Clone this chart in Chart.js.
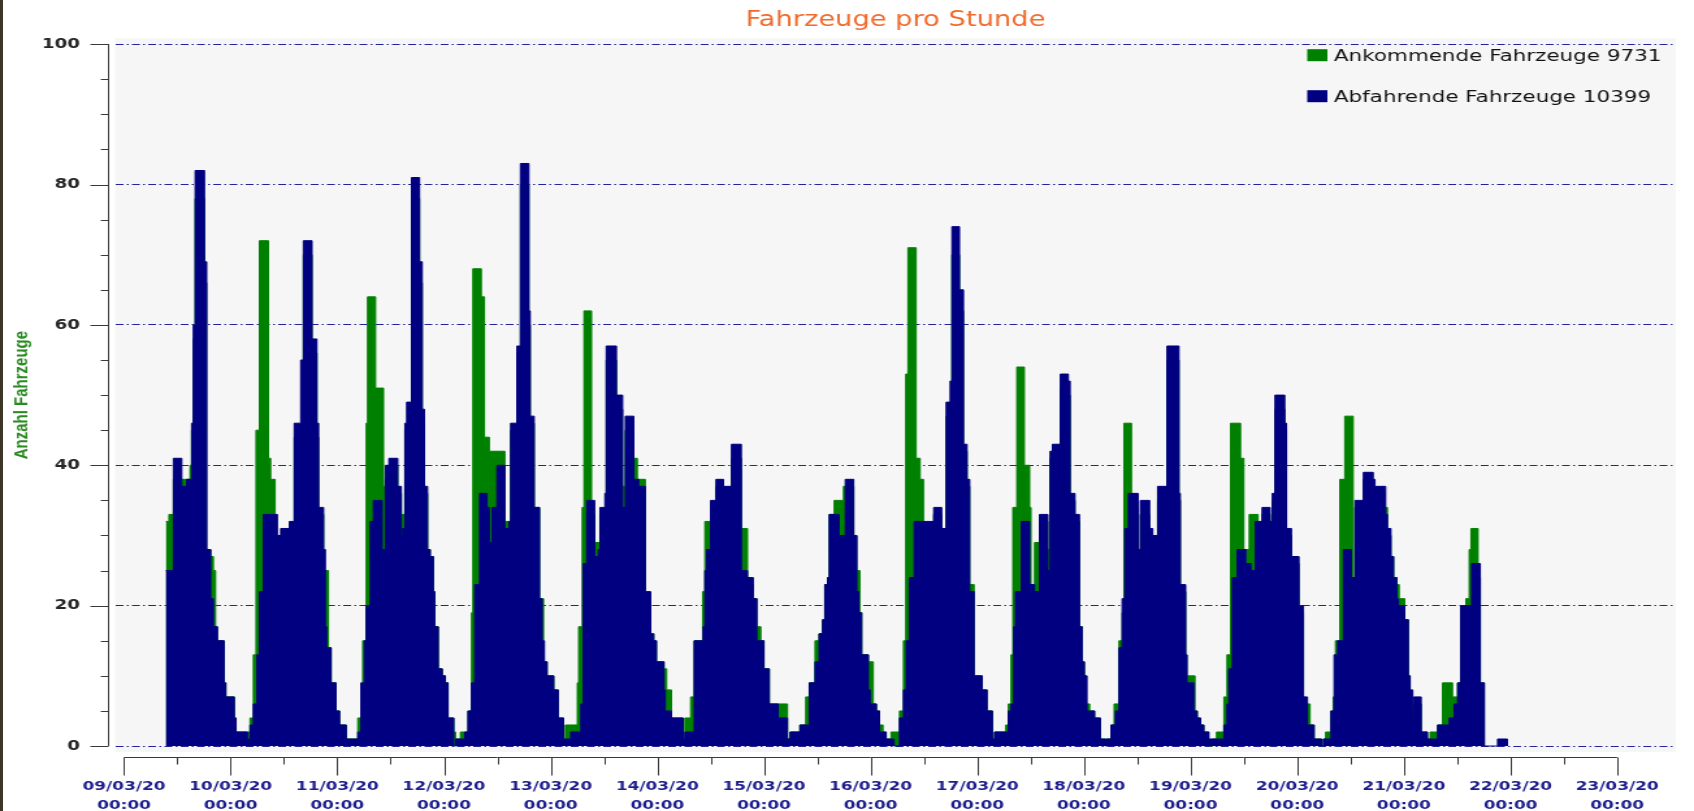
<!DOCTYPE html>
<html>
<head>
<meta charset="utf-8">
<title>Fahrzeuge pro Stunde</title>
<script src="https://cdn.jsdelivr.net/npm/chart.js@4.4.1/dist/chart.umd.min.js"></script>
<style>
    html, body { margin: 0; padding: 0; background: #ffffff; }
    #wrap { position: relative; width: 1694px; height: 811px; overflow: hidden; }
    #edge { position: absolute; left: 0; top: 0; width: 3px; height: 811px; background: #3d3526; }
</style>
</head>
<body>
<div id="wrap">
    <canvas id="fahrzeugChart" width="1303" height="811" style="width:1694px;height:811px;"></canvas>
    <div id="edge"></div>
</div>
<script>
// Werte; Zeit in Stunden ab 09/03/20 00:00
var dayLabels = ['09/03/20', '10/03/20', '11/03/20', '12/03/20', '13/03/20', '14/03/20', '15/03/20',
    '16/03/20', '17/03/20', '18/03/20', '19/03/20', '20/03/20', '21/03/20', '22/03/20', '23/03/20'];
var timeLabel = '00:00';
var yTicks = [0, 20, 40, 60, 80, 100];
var seriesNames = ['Ankommende Fahrzeuge 9731', 'Abfahrende Fahrzeuge 10399'];

// Ankommende Fahrzeuge (gruen)
var ankHours = [9.4, 10.1, 11.1, 14.85, 15.2, 15.6, 16.0, 18.1, 18.6, 19.5, 20.1, 20.6, 21.0, 22.5, 22.9, 24.8, 25.2, 28.35, 29.1, 29.7, 30.45, 32.5, 33.0, 34.0, 35.25, 37.2, 38.3,
    40.35, 42.3, 43.4, 43.8, 44.9, 46.0, 46.6, 47.7, 48.5, 50.0, 52.6, 53.7, 54.5, 54.8, 56.6, 58.4, 58.8, 59.6, 61.6, 62.4, 63.1, 63.2, 64.7, 66.5, 67.1, 67.6, 68.3, 68.9, 69.6, 69.9,
    70.7, 71.6, 72.3, 72.9, 74.2, 74.6, 75.7, 77.4, 78.2, 78.5, 80.4, 81.1, 82.2, 85.7, 86.6, 87.0, 88.4, 89.2, 91.1, 91.4, 92.3, 93.5, 94.4, 95.2, 96.7, 97.7, 98.9, 99.3,
    102.0, 102.3, 103.1, 103.5, 105.2, 105.9, 107.1, 108.5, 110.8, 112.2, 112.8, 114.7, 115.5, 117.3, 118.5, 119.2, 119.8, 121.5, 122.1, 123.2, 125.8, 126.2, 127.5, 128.3, 130.2, 130.7,
    132.6, 133.2, 134.9, 136.7, 138.9, 140.3, 141.6, 142.4, 143.3, 144.0, 145.2, 149.3, 149.9, 152.1, 153.4, 154.2, 155.5, 156.4, 157.2, 157.7, 158.3, 158.7, 159.8,
    161.9, 164.2, 164.9, 165.6, 166.0, 167.5, 168.6, 169.3, 170.0, 170.8, 171.5, 172.6, 174.5, 175.4, 175.9, 176.4, 178.25, 179.15, 179.9, 182.2, 184.0, 185.0, 186.3, 188.0, 188.9, 189.7, 190.3, 191.3,
    193.1, 194.2, 195.4, 195.9, 198.4, 199.0, 199.6, 200.0, 200.9, 202.6, 203.8, 204.1, 204.9, 206.0, 207.9, 208.4, 208.9, 210.7, 212.5, 212.9, 214.0, 215.0, 215.6, 216.1, 216.5, 217.3, 218.4, 219.7, 220.9, 221.0, 222.1, 222.8,
    223.9, 224.6, 225.0, 226.7, 228.2, 228.7, 230.8, 231.5, 232.6, 234.7, 237.4, 237.7, 238.9, 239.2, 241.0, 241.5, 242.25, 243.0, 244.1, 244.9, 245.85, 247.5, 248.2, 249.0, 251.25, 252.0, 253.2,
    255.2, 256.1, 257.9, 258.4, 259.0, 261.2, 261.6, 262.7, 264.4, 265.4, 265.6, 266.9, 267.8, 269.5, 269.9, 270.4, 271.6, 272.1, 272.6, 273.6, 274.7, 276.6, 277.0, 278.9, 281.1, 281.5, 283.7,
    284.3, 285.1, 285.7, 286.4, 286.95, 288.2, 289.0, 289.4, 289.6, 290.2, 291.9, 293.3, 293.9, 295.6, 296.7, 298.95, 300.1, 300.8, 301.95, 302.7, 303.1, 304.7, 305.2, 306.1];
var ankValues = [32, 33, 38, 40, 45, 58, 78, 66, 28, 27, 25, 17, 15, 9, 7, 4, 2, 4, 13, 45, 72, 41, 38, 30, 30, 31, 44,
    70, 56, 44, 33, 25, 14, 9, 5, 3, 1, 4, 15, 46, 64, 51, 37, 38, 40, 36, 33, 31, 45, 78, 66, 46, 36, 28, 27, 22, 17,
    11, 10, 9, 4, 2, 1, 2, 5, 19, 68, 64, 44, 42, 32, 31, 45, 56, 80, 60, 46, 34, 21, 12, 10, 8, 4, 1, 3,
    9, 17, 34, 62, 33, 29, 33, 55, 48, 37, 45, 41, 38, 21, 16, 15, 12, 11, 8, 4, 1, 4, 7, 15, 22, 32,
    34, 37, 36, 41, 31, 23, 21, 17, 15, 11, 6, 1, 2, 3, 7, 9, 15, 16, 18, 23, 24, 33, 35,
    37, 30, 25, 19, 13, 12, 6, 5, 3, 2, 1, 2, 5, 15, 53, 71, 41, 38, 30, 33, 30, 47, 70, 62, 42, 37, 23, 10,
    8, 5, 1, 2, 3, 6, 13, 34, 54, 40, 34, 22, 29, 32, 28, 41, 42, 51, 50, 35, 32, 17, 12, 10, 6, 5, 4, 1, 0, 1, 3, 6,
    15, 19, 46, 34, 27, 33, 30, 29, 35, 55, 35, 22, 13, 10, 5, 4, 3, 2, 0, 1, 2, 7, 13, 46, 41, 28, 33,
    31, 33, 31, 35, 48, 45, 30, 26, 19, 7, 6, 3, 1, 0, 1, 2, 5, 7, 15, 38, 47, 23, 34, 38, 37, 36, 34,
    30, 27, 24, 23, 21, 18, 10, 8, 5, 6, 2, 1, 2, 3, 9, 7, 9, 20, 21, 28, 31, 24, 9, 0];

// Abfahrende Fahrzeuge (blau)
var abfHours = [9.4, 11.1, 13.0, 14.1, 15.2, 15.6, 16.0, 18.1, 18.6, 19.5, 20.1, 21.0, 22.5, 22.9, 24.8, 25.2, 27.75, 28.2, 28.35, 29.1, 29.9, 30.45, 31.35, 34.5, 35.25, 37.2, 38.3,
    39.75, 40.35, 42.3, 43.4, 43.8, 44.9, 45.3, 45.6, 46.6, 47.7, 48.5, 50.0, 52.6, 53.3, 54.1, 54.5, 55.4, 56.1, 58.1, 58.8, 59.6, 61.6, 62.4, 62.7, 63.2, 63.6, 64.7, 66.5, 67.1, 67.6, 68.3, 68.9, 69.6,
    69.9, 70.7, 71.6, 72.3, 72.9, 74.2, 74.6, 76.7, 77.4, 78.2, 78.9, 80.0, 81.7, 82.2, 82.8, 83.9, 85.7, 86.6, 87.0, 88.4, 89.2, 91.1, 91.4, 92.3, 93.5, 94.1, 94.6, 95.2, 96.7, 97.7, 98.9,
    100.5, 102.8, 103.3, 104.1, 105.9, 106.7, 107.1, 108.2, 108.5, 110.8, 112.2, 112.8, 114.7, 115.8, 117.3, 118.5, 119.2, 119.8, 121.5, 121.8, 123.2, 125.8, 126.2, 128.3, 130.3, 130.7,
    131.1, 132.0, 133.2, 134.9, 136.7, 138.9, 140.3, 141.6, 142.4, 144.0, 145.2, 147.2, 149.3, 149.9, 152.1, 154.2, 155.5, 156.4, 157.2, 157.7, 158.3, 158.7, 160.9,
    162.3, 164.2, 164.9, 165.3, 166.0, 167.5, 167.9, 169.3, 170.0, 171.5, 173.3, 174.5, 175.4, 176.0, 176.7, 177.8, 182.2, 184.0, 185.0, 185.9, 186.3, 188.0, 188.9, 189.7, 190.3, 191.3,
    193.1, 194.2, 195.4, 195.9, 199.0, 199.6, 200.2, 200.6, 201.9, 203.8, 204.9, 206.0, 207.9, 208.4, 208.9, 210.7, 212.5, 212.9, 214.0, 215.0, 215.6, 216.1, 216.7, 218.4, 219.7, 220.9, 221.0, 222.1,
    223.1, 223.9, 224.6, 225.2, 226.0, 228.2, 228.7, 230.8, 231.5, 232.6, 234.7, 237.4, 237.7, 238.9, 239.2, 240.75, 241.5, 242.25, 243.0, 244.1, 247.5, 248.2, 248.6, 249.4, 250.5, 252.4,
    253.6, 254.6, 256.1, 257.9, 258.4, 259.0, 261.2, 261.6, 262.7, 264.4, 265.4, 266.3, 267.8, 269.5, 269.9, 271.6, 272.3, 273.1, 274.4, 276.2, 277.0, 278.9, 281.1, 281.5, 283.9,
    284.3, 285.1, 285.7, 286.4, 286.8, 288.2, 289.0, 289.4, 290.0, 290.2, 291.9, 293.3, 295.6, 298.2, 299.3, 300.1, 300.8, 303.25, 305.2, 306.1, 309.1, 311.3];
var abfValues = [25, 41, 37, 38, 46, 60, 82, 69, 28, 21, 17, 15, 9, 7, 4, 2, 1, 0, 3, 6, 13, 22, 33, 30, 31, 32, 46,
    55, 72, 58, 46, 34, 28, 17, 14, 9, 5, 3, 1, 2, 9, 15, 20, 32, 35, 28, 40, 41, 37, 30, 31, 46, 49, 81, 69, 48, 37, 28, 27, 22,
    17, 11, 10, 9, 4, 0, 1, 2, 5, 9, 23, 36, 34, 29, 34, 40, 31, 32, 46, 57, 83, 62, 47, 34, 21, 15, 12, 10, 8, 4, 1,
    2, 6, 26, 35, 27, 28, 34, 36, 57, 50, 34, 47, 38, 37, 22, 16, 15, 12, 8, 5, 4, 1, 2, 15, 17, 25,
    28, 35, 38, 37, 43, 25, 24, 21, 15, 11, 6, 4, 1, 2, 3, 9, 12, 16, 18, 23, 24, 33, 30,
    38, 30, 22, 19, 13, 8, 6, 5, 2, 1, 0, 4, 8, 15, 24, 32, 34, 31, 49, 52, 74, 65, 43, 38, 22, 10,
    8, 5, 1, 2, 5, 6, 17, 22, 32, 23, 22, 33, 25, 42, 43, 53, 52, 36, 33, 17, 12, 10, 5, 4, 1, 0, 1, 3,
    5, 14, 21, 31, 36, 28, 35, 31, 30, 37, 57, 36, 23, 13, 9, 5, 4, 3, 2, 1, 3, 6, 11, 24, 28, 26,
    25, 32, 34, 32, 36, 50, 46, 31, 27, 20, 7, 3, 1, 0, 1, 5, 13, 15, 28, 24, 35, 39, 38, 37, 33,
    31, 27, 24, 21, 20, 18, 10, 8, 4, 7, 2, 1, 3, 4, 6, 9, 20, 26, 9, 0, 1, 0];

function toPoints(hours, values) {
    return hours.map(function (h, i) { return { x: h, y: values[i] }; });
}

// Achsen, Hintergrund und Legende wie im Original
var framePlugin = {
    id: 'frame',
    beforeDraw: function (chart) {
        var a = chart.chartArea, c = chart.ctx;
        c.save();
        c.fillStyle = '#f6f6f6';
        c.fillRect(a.left, a.top, a.right - a.left, a.bottom - a.top);
        c.restore();
    },
    afterDraw: function (chart) {
        var c = chart.ctx, a = chart.chartArea, x = chart.scales.x, y = chart.scales.y;
        c.save();
        c.strokeStyle = '#3a3a3a';
        c.lineWidth = 1;
        c.beginPath();
        // y axis with minor ticks every 5
        var ax = Math.round(a.left - 6) + 0.5;
        c.moveTo(ax, y.getPixelForValue(100));
        c.lineTo(ax, y.getPixelForValue(0));
        for (var v = 0; v <= 100; v += 5) {
            var py = Math.round(y.getPixelForValue(v)) + 0.5;
            c.moveTo(ax, py);
            c.lineTo(ax - (v % 20 === 0 ? 14 : 6), py);
        }
        // x axis, ticks every 12 hours
        var ay = Math.round(a.bottom + 5) + 0.5;
        c.moveTo(x.getPixelForValue(0), ay);
        c.lineTo(x.getPixelForValue(336), ay);
        for (var h = 0; h <= 336; h += 12) {
            var px = Math.round(x.getPixelForValue(h)) + 0.5;
            c.moveTo(px, ay);
            c.lineTo(px, ay + (h % 24 === 0 ? 18 : 7));
        }
        c.stroke();

        // legend inside plot area, top right
        var lx = a.right - 283.5;
        c.font = '16.5px "DejaVu Sans", Verdana, sans-serif';
        c.textBaseline = 'alphabetic';
        chart.data.datasets.forEach(function (ds, i) {
            var top = a.top + 11 + i * 41;
            c.fillStyle = ds.backgroundColor;
            c.fillRect(lx, top, 15.5, 12);
            c.fillStyle = '#111111';
            c.fillText(ds.label, lx + 20.5, top + 12);
        });
        c.restore();
    }
};

var ctx = document.getElementById('fahrzeugChart').getContext('2d');
var fahrzeugChart = new Chart(ctx, {
    type: 'line',
    data: {
        datasets: [{
            label: seriesNames[0],
            data: toPoints(ankHours, ankValues),
            stepped: true,
            fill: 'origin',
            backgroundColor: '#008000',
            borderColor: '#008000',
            borderWidth: 1,
            pointRadius: 0,
            order: 2
        }, {
            label: seriesNames[1],
            data: toPoints(abfHours, abfValues),
            stepped: true,
            fill: 'origin',
            backgroundColor: '#000080',
            borderColor: '#000080',
            borderWidth: 1,
            pointRadius: 0,
            order: 1
        }]
    },
    options: {
        responsive: false,
        devicePixelRatio: 1,
        animation: false,
        layout: { padding: { left: 0, right: 14, top: 0, bottom: 0 } },
        scales: {
            x: {
                type: 'linear',
                min: -2.02,
                max: 349.2,
                afterBuildTicks: function (scale) {
                    scale.ticks = dayLabels.map(function (d, i) { return { value: i * 24 }; });
                },
                afterFit: function (scale) { scale.height = 59; },
                grid: { display: false, drawTicks: false },
                border: { display: false },
                ticks: {
                    autoSkip: false,
                    maxRotation: 0,
                    minRotation: 0,
                    padding: 26,
                    color: '#1c1c8c',
                    font: { family: '"DejaVu Sans", Verdana, sans-serif', size: 13, weight: 'bold', lineHeight: 1.4 },
                    callback: function (value, index) { return [dayLabels[index], timeLabel]; }
                }
            },
            y: {
                min: -0.85,
                max: 100.85,
                afterBuildTicks: function (scale) {
                    scale.ticks = yTicks.map(function (v) { return { value: v }; });
                },
                afterFit: function (scale) { scale.width = 88.5; },
                grid: { color: '#22229a', lineWidth: 1, drawTicks: false },
                border: { display: false, dash: [6, 2.5, 1.5, 2.5] },
                ticks: {
                    padding: 27,
                    color: '#262626',
                    font: { family: '"DejaVu Sans", Verdana, sans-serif', size: 14, weight: 'bold' }
                },
                title: {
                    display: true,
                    text: 'Anzahl Fahrzeuge',
                    color: '#2b8a22',
                    padding: { top: 8, bottom: 0 },
                    font: { family: '"Liberation Sans Narrow", "Liberation Sans", Arial, sans-serif', size: 15, weight: 'bold' }
                }
            }
        },
        plugins: {
            legend: { display: false },
            tooltip: { enabled: false },
            title: {
                display: true,
                text: 'Fahrzeuge pro Stunde',
                fullSize: false,
                color: '#f26a2a',
                padding: { top: 8, bottom: 5 },
                font: { family: '"DejaVu Sans", Verdana, sans-serif', size: 21, weight: 'normal' }
            }
        }
    },
    plugins: [framePlugin]
});
</script>
</body>
</html>
